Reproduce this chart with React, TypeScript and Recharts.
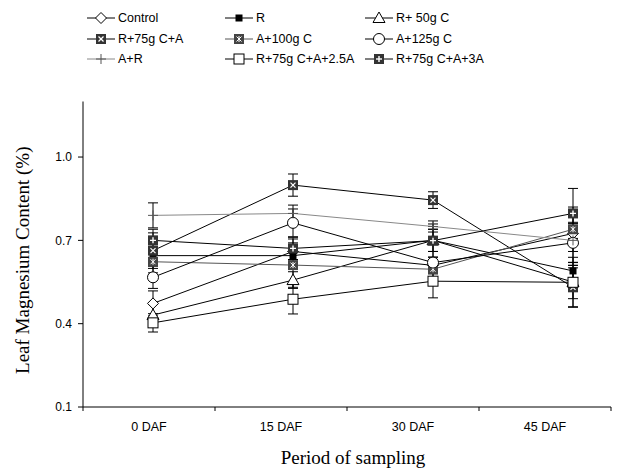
import React from 'react';
import { LineChart, Line, XAxis, YAxis, ErrorBar } from 'recharts';

const categories = ['0 DAF', '15 DAF', '30 DAF', '45 DAF'];
const yTicks = [0.1, 0.4, 0.7, 1.0];

const control = [0.473, 0.66, 0.61, 0.725];
const controlErr = [0.045, 0.045, 0.03, 0.04];
const rOnly = [0.645, 0.645, 0.7, 0.59];
const rOnlyErr = [0.03, 0.03, 0.04, 0.03];
const r50c = [0.431, 0.557, 0.7, 0.55];
const r50cErr = [0.04, 0.03, 0.04, 0.06];
const r75ca = [0.663, 0.899, 0.845, 0.531];
const r75caErr = [0.064, 0.04, 0.03, 0.07];
const a100c = [0.623, 0.611, 0.596, 0.74];
const a100cErr = [0.04, 0.08, 0.03, 0.08];
const a125c = [0.567, 0.763, 0.62, 0.691];
const a125cErr = [0.04, 0.05, 0.04, 0.07];
const aR = [0.79, 0.797, 0.75, 0.7];
const aRErr = [0.045, 0.03, 0.02, 0.09];
const r25a = [0.403, 0.488, 0.553, 0.549];
const r25aErr = [0.033, 0.053, 0.06, 0.09];
const r3a = [0.7, 0.671, 0.699, 0.797];
const r3aErr = [0.04, 0.04, 0.06, 0.09];

type MarkerType =
  | 'diamond' | 'smallSquare' | 'triangle' | 'xSquare' | 'starSquare'
  | 'circle' | 'plus' | 'openSquare' | 'plusSquare';

const series: { key: string; name: string; values: number[]; errors: number[]; marker: MarkerType; color: string }[] = [
  { key: 'control', name: 'Control', values: control, errors: controlErr, marker: 'diamond', color: '#000' },
  { key: 'r', name: 'R', values: rOnly, errors: rOnlyErr, marker: 'smallSquare', color: '#000' },
  { key: 'r50c', name: 'R+ 50g C', values: r50c, errors: r50cErr, marker: 'triangle', color: '#000' },
  { key: 'r75ca', name: 'R+75g C+A', values: r75ca, errors: r75caErr, marker: 'xSquare', color: '#000' },
  { key: 'a100c', name: 'A+100g C', values: a100c, errors: a100cErr, marker: 'starSquare', color: '#555' },
  { key: 'a125c', name: 'A+125g C', values: a125c, errors: a125cErr, marker: 'circle', color: '#000' },
  { key: 'ar', name: 'A+R', values: aR, errors: aRErr, marker: 'plus', color: '#888' },
  { key: 'r25a', name: 'R+75g C+A+2.5A', values: r25a, errors: r25aErr, marker: 'openSquare', color: '#000' },
  { key: 'r3a', name: 'R+75g C+A+3A', values: r3a, errors: r3aErr, marker: 'plusSquare', color: '#000' },
];

const data = categories.map((period, i) => {
  const row: Record<string, string | number> = { period };
  series.forEach((s) => {
    row[s.key] = s.values[i];
    row[s.key + 'Err'] = s.errors[i];
  });
  return row;
});

const W = 627;
const H = 464;
const PLOT_LEFT = 75;
const PLOT_TOP = 93.5;
const PLOT_W = 528;
const PLOT_RIGHT = W - PLOT_LEFT - PLOT_W;
const XAXIS_H = 65;
const BAND = PLOT_W / categories.length;
const SANS = '"Liberation Sans", Arial, sans-serif';
const SERIF = '"Liberation Serif", "Times New Roman", serif';
const DARK = '#333';

function Marker({ type, cx, cy }: { type: MarkerType; cx: number; cy: number }) {
  const h = 5;
  switch (type) {
    case 'diamond':
      return (
        <polygon
          points={`${cx},${cy - 5.5} ${cx + 5.5},${cy} ${cx},${cy + 5.5} ${cx - 5.5},${cy}`}
          fill="#fff" stroke="#000" strokeWidth={1}
        />
      );
    case 'smallSquare':
      return <rect x={cx - 3.5} y={cy - 3.5} width={7} height={7} fill="#000" />;
    case 'triangle':
      return (
        <polygon
          points={`${cx},${cy - 6} ${cx + 6},${cy + 4.5} ${cx - 6},${cy + 4.5}`}
          fill="#fff" stroke="#000" strokeWidth={1}
        />
      );
    case 'xSquare':
      return (
        <g>
          <rect x={cx - h} y={cy - h} width={2 * h} height={2 * h} fill={DARK} />
          <line x1={cx - 2.5} y1={cy - 2.5} x2={cx + 2.5} y2={cy + 2.5} stroke="#fff" strokeWidth={1.2} />
          <line x1={cx - 2.5} y1={cy + 2.5} x2={cx + 2.5} y2={cy - 2.5} stroke="#fff" strokeWidth={1.2} />
        </g>
      );
    case 'starSquare':
      return (
        <g>
          <rect x={cx - h} y={cy - h} width={2 * h} height={2 * h} fill="#444" />
          <line x1={cx - 2.5} y1={cy - 2.5} x2={cx + 2.5} y2={cy + 2.5} stroke="#fff" strokeWidth={1} />
          <line x1={cx - 2.5} y1={cy + 2.5} x2={cx + 2.5} y2={cy - 2.5} stroke="#fff" strokeWidth={1} />
          <line x1={cx} y1={cy - 3} x2={cx} y2={cy + 3} stroke="#fff" strokeWidth={1} />
        </g>
      );
    case 'circle':
      return <circle cx={cx} cy={cy} r={5.5} fill="#fff" stroke="#000" strokeWidth={1} />;
    case 'plus':
      return (
        <g>
          <line x1={cx - 5} y1={cy} x2={cx + 5} y2={cy} stroke="#555" strokeWidth={1} />
          <line x1={cx} y1={cy - 5} x2={cx} y2={cy + 5} stroke="#555" strokeWidth={1} />
        </g>
      );
    case 'openSquare':
      return <rect x={cx - h} y={cy - h} width={2 * h} height={2 * h} fill="#fff" stroke="#000" strokeWidth={1} />;
    case 'plusSquare':
      return (
        <g>
          <rect x={cx - h} y={cy - h} width={2 * h} height={2 * h} fill={DARK} />
          <line x1={cx - 3} y1={cy} x2={cx + 3} y2={cy} stroke="#fff" strokeWidth={1.4} />
          <line x1={cx} y1={cy - 3} x2={cx} y2={cy + 3} stroke="#fff" strokeWidth={1.4} />
        </g>
      );
    default:
      return null;
  }
}

function XTick(props: any) {
  const { x, y, payload, index } = props;
  const left = x - BAND / 2;
  return (
    <g>
      <line x1={left} y1={y} x2={left} y2={y + 4} stroke="#000" strokeWidth={1} />
      {index === categories.length - 1 ? (
        <line x1={x + BAND / 2} y1={y} x2={x + BAND / 2} y2={y + 4} stroke="#000" strokeWidth={1} />
      ) : null}
      <text x={x} y={y + 24} textAnchor="middle" fontFamily={SANS} fontSize={12.5} fill="#000">
        {payload.value}
      </text>
    </g>
  );
}

function YTitle(props: any) {
  const vb = props.viewBox || { x: 0, y: PLOT_TOP, width: PLOT_LEFT, height: 305 };
  const cx = vb.x + 14;
  const cy = vb.y + vb.height / 2 + 6;
  return (
    <text
      x={cx} y={cy} transform={`rotate(-90 ${cx} ${cy})`}
      textAnchor="middle" dominantBaseline="central"
      fontFamily={SERIF} fontSize={19} fill="#000"
    >
      Leaf Magnesium Content (%)
    </text>
  );
}

function XTitle(props: any) {
  const vb = props.viewBox || { x: PLOT_LEFT, y: H - XAXIS_H, width: PLOT_W, height: XAXIS_H };
  return (
    <text
      x={vb.x + 270} y={vb.y + 50} textAnchor="middle" dominantBaseline="central"
      fontFamily={SERIF} fontSize={19} fill="#000"
    >
      Period of sampling
    </text>
  );
}

function LegendBox() {
  const colX = [87, 225, 365];
  const rowY = [18, 39, 59];
  return (
    <svg width={627} height={80} style={{ position: 'absolute', left: 0, top: 0 }}>
      {series.map((s, i) => {
        const col = i % 3;
        const row = Math.floor(i / 3);
        const x0 = colX[col] - 8;
        const y0 = rowY[row] - 8;
        return (
          <g key={s.key}>
            <line x1={x0} y1={y0} x2={x0 + 28} y2={y0} stroke={s.color} strokeWidth={1} />
            <Marker type={s.marker} cx={x0 + 14} cy={y0} />
            <text x={x0 + 31} y={y0} dominantBaseline="central" fontFamily={SANS} fontSize={12.5} fill="#000">
              {s.name}
            </text>
          </g>
        );
      })}
    </svg>
  );
}

export default function App() {
  return (
    <div style={{ position: 'relative', width: 627, height: H, overflow: 'hidden', background: '#fff' }}>
      <LineChart
        width={W}
        height={H}
        data={data}
        margin={{ top: PLOT_TOP, right: PLOT_RIGHT, bottom: 0, left: 0 }}
      >
        <XAxis
          xAxisId="labels"
          dataKey="period"
          type="category"
          height={XAXIS_H}
          padding={{ left: BAND / 2, right: BAND / 2 }}
          axisLine={{ stroke: '#000', strokeWidth: 1 }}
          tickLine={false}
          tickSize={0}
          tickMargin={0}
          interval={0}
          tick={<XTick />}
          label={<XTitle />}
        />
        <XAxis
          xAxisId="points"
          dataKey="period"
          type="category"
          hide
          padding={{ left: 70, right: 38 }}
        />
        <YAxis
          type="number"
          domain={[0.1, 1.2]}
          ticks={yTicks}
          width={PLOT_LEFT}
          axisLine={{ stroke: '#000', strokeWidth: 1 }}
          tickLine={{ stroke: '#000' }}
          tickSize={5}
          tickMargin={6}
          tickFormatter={(v: number) => v.toFixed(1)}
          tick={{ fontFamily: SANS, fontSize: 12, fill: '#000' }}
          allowDataOverflow
          label={<YTitle />}
        />
        {series.map((s) => (
          <Line
            key={s.key}
            xAxisId="points"
            dataKey={s.key}
            name={s.name}
            type="linear"
            stroke={s.color}
            strokeWidth={1}
            isAnimationActive={false}
            activeDot={false}
            dot={(p: any) => <Marker key={`${s.key}-${p.index}`} type={s.marker} cx={p.cx} cy={p.cy} />}
          >
            <ErrorBar dataKey={s.key + 'Err'} width={5} stroke="#000" strokeWidth={1} direction="y" />
          </Line>
        ))}
      </LineChart>
      <LegendBox />
    </div>
  );
}
